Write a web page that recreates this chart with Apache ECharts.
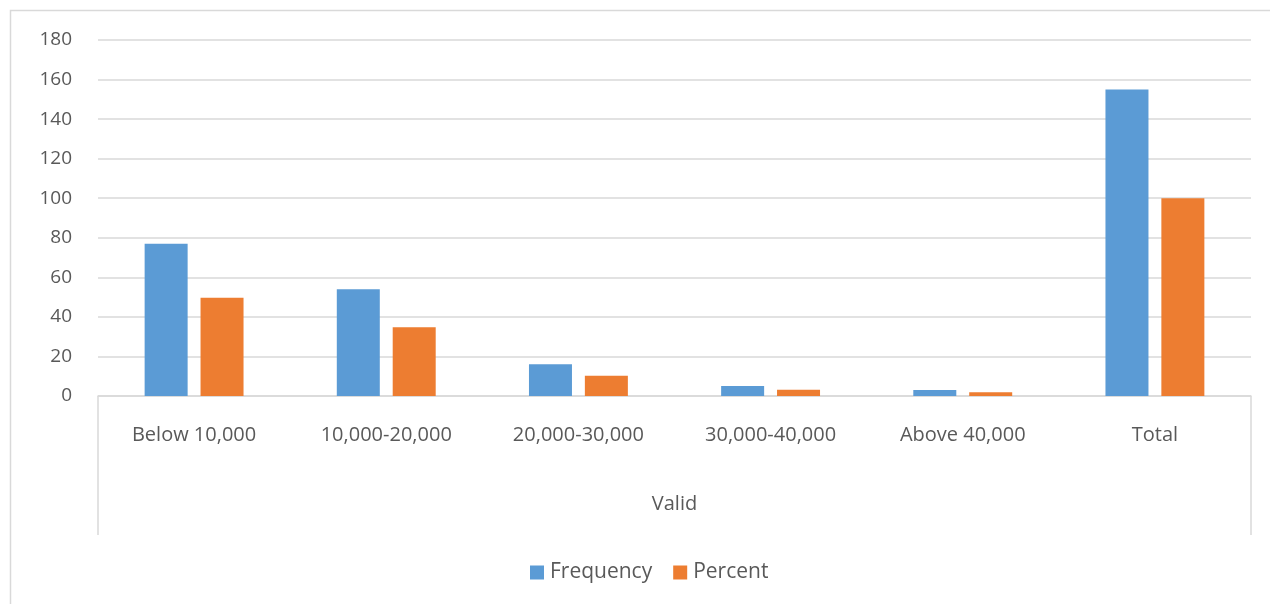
<!DOCTYPE html>
<html>
<head>
<meta charset="utf-8">
<script src="https://cdn.jsdelivr.net/npm/echarts@6/dist/echarts.min.js"></script>
<style>
  html, body { margin: 0; padding: 0; background: #ffffff; }
  #chart { width: 1270px; height: 604px; }
</style>
</head>
<body>
<div id="chart"></div>
<script>
// Income groups (inner category level) and the outer group name
const categories = ['Below 10,000', '10,000-20,000', '20,000-30,000', '30,000-40,000', 'Above 40,000', 'Total'];
const groupLabels = ['Valid'];

// Respondent counts and their share in percent
const frequency = [77, 54, 16, 5, 3, 155];
const percent = [49.7, 34.8, 10.3, 3.2, 1.9, 100];

const seriesNames = ['Frequency', 'Percent'];
const yTicks = { min: 0, max: 180, interval: 20 };

const textColor = '#595959';
const lineColor = '#d9d9d9';
const fontFamily = '"Open Sans", "Liberation Sans", sans-serif';

const chart = echarts.init(document.getElementById('chart'), null, { renderer: 'canvas' });

chart.setOption({
  animation: false,
  backgroundColor: '#ffffff',
  color: ['#5b9bd5', '#ed7d31'],
  textStyle: { fontFamily: fontFamily },
  graphic: [{
    type: 'rect',
    shape: { x: 10.5, y: 10.5, width: 1290, height: 640 },
    style: { fill: 'none', stroke: lineColor, lineWidth: 1.5 },
    silent: true,
    z: -10
  }],
  grid: { left: 98, right: 19, top: 40, bottom: 208, containLabel: false },
  legend: {
    bottom: 16,
    left: 525,
    itemWidth: 14,
    itemHeight: 14,
    itemGap: 21,
    icon: 'rect',
    textStyle: { color: textColor, fontSize: 21, fontFamily: fontFamily, padding: [0, 0, 0, 1] },
    data: seriesNames
  },
  xAxis: [{
    type: 'category',
    data: categories,
    axisLine: { show: true, lineStyle: { color: lineColor, width: 1.5 } },
    axisTick: { show: false },
    axisLabel: { color: textColor, fontSize: 20, margin: 29, fontFamily: fontFamily },
    splitLine: { show: false }
  }, {
    // outer level of the category axis: a single group spanning all bars
    type: 'category',
    data: groupLabels,
    position: 'bottom',
    axisLine: { show: false },
    axisTick: { show: true, length: 139, lineStyle: { color: lineColor, width: 1.5 } },
    axisLabel: { color: textColor, fontSize: 20, margin: 98, fontFamily: fontFamily },
    splitLine: { show: false }
  }],
  yAxis: {
    type: 'value',
    min: yTicks.min,
    max: yTicks.max,
    interval: yTicks.interval,
    axisLine: { show: false },
    axisTick: { show: false },
    axisLabel: { color: textColor, fontSize: 19, margin: 26, fontFamily: fontFamily },
    splitLine: { lineStyle: { color: lineColor, width: 1.5 } }
  },
  series: [{
    name: seriesNames[0],
    type: 'bar',
    data: frequency,
    barWidth: 43,
    barGap: '30%'
  }, {
    name: seriesNames[1],
    type: 'bar',
    data: percent,
    barWidth: 43,
    barGap: '30%'
  }]
});
</script>
</body>
</html>
